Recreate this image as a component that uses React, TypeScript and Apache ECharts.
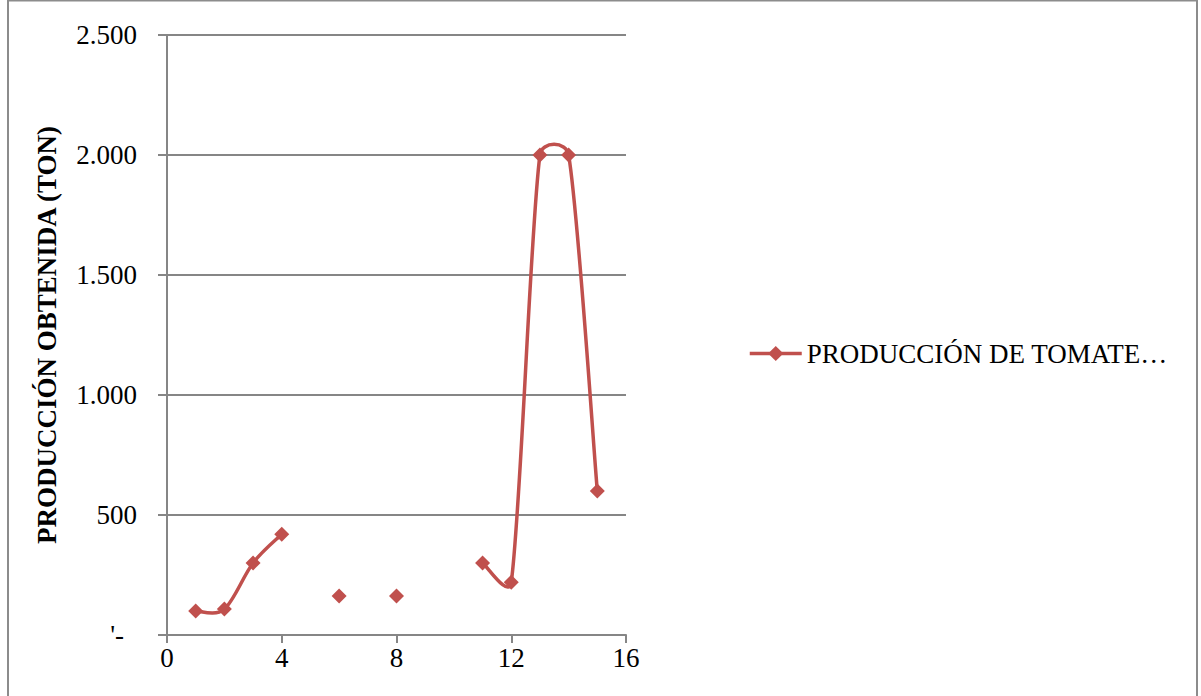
import React, { useEffect, useRef } from "react";
import * as echarts from "echarts";

// Tomato production per period (tons); null marks periods without data
const periods = [1, 2, 3, 4, 5, 6, 7, 8, 9, 10, 11, 12, 13, 14, 15];
const production = [100, 108, 300, 420, null, 162, null, 162, null, null, 300, 220, 2000, 2000, 600];
const seriesName = "PRODUCCIÓN DE TOMATE…";
const yAxisTitle = "PRODUCCIÓN OBTENIDA (TON)";

const FONT = "'Liberation Serif', 'Times New Roman', serif";
const RED = "#C0504D";
const GRID_GRAY = "#868686";
const FONT_SIZE = 27;

// Accounting-style thousands: dot separators, zero shown as a padded dash
function formatThousands(v: number): string {
  if (v === 0) return "{zero|'-}";
  return String(Math.round(v)).replace(/\B(?=(\d{3})+(?!\d))/g, ".");
}

// Contiguous runs of non-null values; each run is drawn as one smooth stroke
function buildRuns(): number[][] {
  const runs: number[][] = [];
  let cur: number[] = [];
  production.forEach((v, i) => {
    if (v === null) {
      if (cur.length) runs.push(cur);
      cur = [];
    } else {
      cur.push(i);
    }
  });
  if (cur.length) runs.push(cur);
  return runs.filter((r) => r.length > 1);
}

type Pt = [number, number];

// Bezier chain through pixel points, with control arms limited by segment length
function smoothPath(pts: Pt[]): string {
  const dist = (a: Pt, b: Pt) => Math.hypot(b[0] - a[0], b[1] - a[1]);
  let d = `M${pts[0][0]},${pts[0][1]}`;
  for (let i = 0; i < pts.length - 1; i++) {
    const p0 = pts[Math.max(0, i - 1)];
    const p1 = pts[i];
    const p2 = pts[i + 1];
    const p3 = pts[Math.min(pts.length - 1, i + 2)];
    const d12 = dist(p1, p2);
    const d02 = dist(p0, p2);
    const d13 = dist(p1, p3);
    const f1 = d02 > 0 ? Math.min(1 / 6, d12 / (2 * d02)) : 0;
    const f2 = d13 > 0 ? Math.min(1 / 6, d12 / (2 * d13)) : 0;
    const c1: Pt = [p1[0] + (p2[0] - p0[0]) * f1, p1[1] + (p2[1] - p0[1]) * f1];
    const c2: Pt = [p2[0] - (p3[0] - p1[0]) * f2, p2[1] - (p3[1] - p1[1]) * f2];
    d += ` C${c1[0]},${c1[1]} ${c2[0]},${c2[1]} ${p2[0]},${p2[1]}`;
  }
  return d;
}

export default function App() {
  const ref = useRef<HTMLDivElement>(null);

  useEffect(() => {
    if (!ref.current) return;
    const chart = echarts.init(ref.current, undefined, { renderer: "svg" });
    const points = periods.map((p, i) => [p, production[i] === null ? "-" : production[i]]);
    const runs = buildRuns();

    chart.setOption({
      animation: false,
      backgroundColor: "#ffffff",
      textStyle: { fontFamily: FONT },
      graphic: [
        {
          type: "rect",
          shape: { x: 8, y: 0.5, width: 1189, height: 720 },
          style: { fill: "none", stroke: "#8c8c8c", lineWidth: 2 },
          silent: true,
        },
      ],
      grid: { left: 167, right: 575, top: 35, bottom: 61, containLabel: false },
      legend: {
        data: [seriesName],
        left: 743,
        top: 335,
        itemWidth: 52,
        itemHeight: 19,
        textStyle: { fontFamily: FONT, fontSize: FONT_SIZE, color: "#000" },
        lineStyle: { color: RED, width: 3.5, opacity: 1 },
      },
      xAxis: {
        type: "value",
        min: 0,
        max: 16,
        interval: 4,
        axisLine: { show: true, onZero: false, lineStyle: { color: GRID_GRAY, width: 2 } },
        axisTick: { show: true, length: 8, lineStyle: { color: GRID_GRAY, width: 2 } },
        splitLine: { show: false },
        axisLabel: { color: "#000", fontSize: FONT_SIZE, fontFamily: FONT, margin: 9 },
      },
      yAxis: {
        type: "value",
        min: 0,
        max: 2500,
        interval: 500,
        name: yAxisTitle,
        nameLocation: "middle",
        nameGap: 107,
        nameTextStyle: { fontFamily: FONT, fontSize: FONT_SIZE, fontWeight: "bold", color: "#000" },
        axisLine: { show: true, lineStyle: { color: GRID_GRAY, width: 2 } },
        axisTick: { show: true, length: 9, lineStyle: { color: GRID_GRAY, width: 2 } },
        splitLine: { show: true, lineStyle: { color: GRID_GRAY, width: 2 } },
        axisLabel: {
          color: "#000",
          fontSize: FONT_SIZE,
          fontFamily: FONT,
          margin: 30,
          formatter: (v: number) => formatThousands(v),
          rich: {
            zero: { fontSize: FONT_SIZE, fontFamily: FONT, color: "#000", padding: [0, 13, 0, 0] },
          },
        },
      },
      series: [
        {
          // smooth connecting strokes for each run of consecutive periods
          name: "curve",
          type: "custom",
          data: runs.map((_, k) => [k]),
          encode: { x: -1, y: -1 },
          silent: true,
          z: 2,
          renderItem: (params: any, api: any) => {
            const run = runs[params.dataIndex];
            const px = run.map((i) => api.coord([periods[i], production[i] as number]) as Pt);
            return {
              type: "path",
              shape: { pathData: smoothPath(px) },
              style: { fill: "none", stroke: RED, lineWidth: 3.5, lineJoin: "round" },
            };
          },
        },
        {
          name: seriesName,
          type: "line",
          data: points,
          connectNulls: false,
          showAllSymbol: true,
          symbol: "diamond",
          symbolSize: 15,
          z: 3,
          itemStyle: { color: RED },
          lineStyle: { color: RED, width: 3.5, opacity: 0 },
        },
      ],
    });
    return () => chart.dispose();
  }, []);

  return (
    <div
      ref={ref}
      style={{ position: "fixed", left: 0, top: 0, width: 1201, height: 696 }}
    />
  );
}
